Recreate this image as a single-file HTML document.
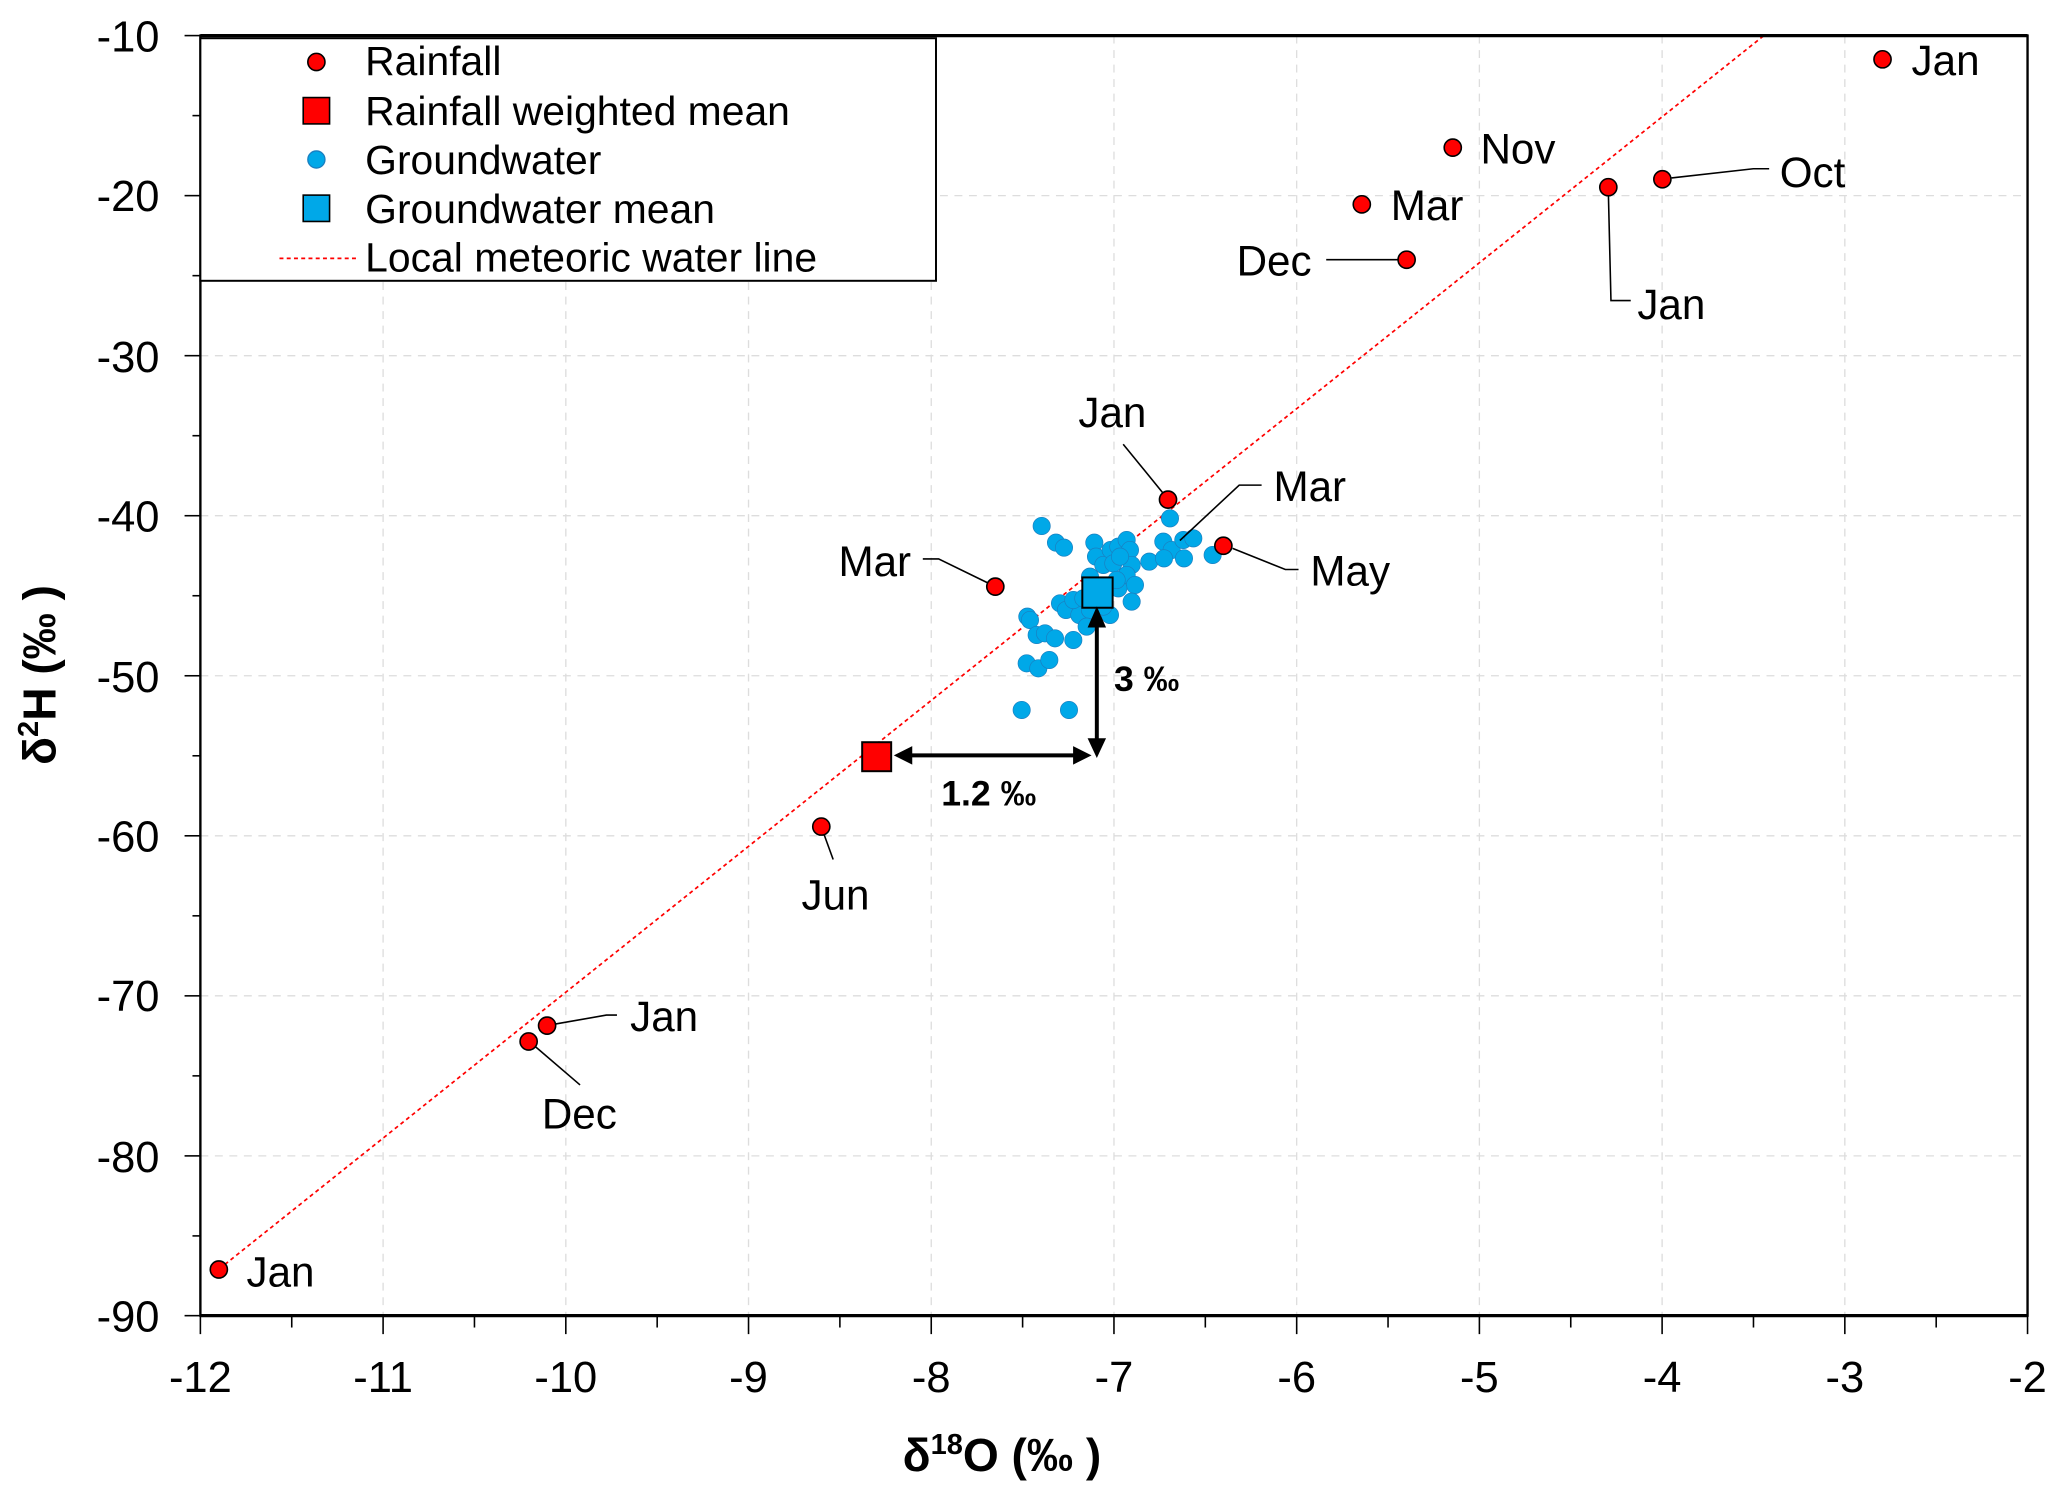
<!DOCTYPE html>
<html><head><meta charset="utf-8"><style>html,body{margin:0;padding:0;background:#fff}svg{display:block}</style></head>
<body>
<svg width="2067" height="1495" viewBox="0 0 2067 1495" xmlns="http://www.w3.org/2000/svg" font-family="Liberation Sans, Arial, sans-serif">
<rect width="2067" height="1495" fill="#fff"/>
<g transform="scale(1.3183)">
<g stroke="#ddd" stroke-width="1" stroke-dasharray="6,5">
<line x1="290.6" y1="27" x2="290.6" y2="998"/><line x1="429.2" y1="27" x2="429.2" y2="998"/><line x1="567.8" y1="27" x2="567.8" y2="998"/><line x1="706.4" y1="27" x2="706.4" y2="998"/><line x1="845" y1="27" x2="845" y2="998"/><line x1="983.6" y1="27" x2="983.6" y2="998"/><line x1="1122.2" y1="27" x2="1122.2" y2="998"/><line x1="1260.8" y1="27" x2="1260.8" y2="998"/><line x1="1399.4" y1="27" x2="1399.4" y2="998"/>
<line x1="152" y1="148.4" x2="1538" y2="148.4"/><line x1="152" y1="269.8" x2="1538" y2="269.8"/><line x1="152" y1="391.2" x2="1538" y2="391.2"/><line x1="152" y1="512.6" x2="1538" y2="512.6"/><line x1="152" y1="634" x2="1538" y2="634"/><line x1="152" y1="755.4" x2="1538" y2="755.4"/><line x1="152" y1="876.8" x2="1538" y2="876.8"/>
</g>
<line x1="162" y1="966" x2="1338" y2="27" stroke="#f00" stroke-width="1.3" stroke-dasharray="3,2.5"/>
</g>
<g transform="translate(990,500) scale(0.3333)" fill="#00a8e8" stroke="#1a7fc0" stroke-width="2">
<circle cx="155" cy="78" r="26"/><circle cx="198" cy="128" r="26"/><circle cx="222" cy="143" r="26"/><circle cx="313" cy="128" r="26"/><circle cx="318" cy="170" r="26"/><circle cx="340" cy="195" r="26"/><circle cx="362" cy="150" r="26"/><circle cx="385" cy="140" r="26"/><circle cx="410" cy="120" r="26"/><circle cx="420" cy="150" r="26"/><circle cx="370" cy="190" r="26"/><circle cx="425" cy="195" r="26"/><circle cx="410" cy="225" r="26"/><circle cx="435" cy="255" r="26"/><circle cx="425" cy="305" r="26"/><circle cx="385" cy="265" r="26"/><circle cx="300" cy="230" r="26"/><circle cx="540" cy="55" r="26"/><circle cx="520" cy="125" r="26"/><circle cx="545" cy="150" r="26"/><circle cx="580" cy="120" r="26"/><circle cx="610" cy="115" r="26"/><circle cx="478" cy="185" r="26"/><circle cx="522" cy="175" r="26"/><circle cx="582" cy="175" r="26"/><circle cx="668" cy="165" r="26"/><circle cx="210" cy="310" r="26"/><circle cx="228" cy="330" r="26"/><circle cx="268" cy="345" r="26"/><circle cx="300" cy="330" r="26"/><circle cx="360" cy="345" r="26"/><circle cx="340" cy="320" r="26"/><circle cx="290" cy="380" r="26"/><circle cx="112" cy="350" r="26"/><circle cx="120" cy="360" r="26"/><circle cx="140" cy="405" r="26"/><circle cx="165" cy="400" r="26"/><circle cx="195" cy="415" r="26"/><circle cx="250" cy="420" r="26"/><circle cx="110" cy="490" r="26"/><circle cx="145" cy="505" r="26"/><circle cx="178" cy="480" r="26"/><circle cx="95" cy="630" r="26"/><circle cx="237" cy="630" r="26"/><circle cx="250" cy="300" r="26"/><circle cx="280" cy="295" r="26"/><circle cx="380" cy="240" r="26"/><circle cx="390" cy="170" r="26"/>
</g>
<g transform="scale(1.3183)">
<g stroke="#000" stroke-width="1.2" fill="none">
<polyline points="1006,197 1063,197"/>
<polyline points="1220,145 1222,228 1237,228"/>
<polyline points="1268,135 1330,128 1342,128"/>
<polyline points="852,337 883,375"/>
<polyline points="957,368 940,368 895,410"/>
<polyline points="935,416 975,432 985,432"/>
<polyline points="700,424 712,424 751,443"/>
<polyline points="624,630 632,652"/>
<polyline points="420,777 460,770 468,770"/>
<polyline points="405,793 440,823"/>
</g>
<g fill="#f00" stroke="#000" stroke-width="1.2">
<circle cx="1428" cy="45" r="6.5"/><circle cx="1102" cy="112" r="6.5"/><circle cx="1033" cy="155" r="6.5"/><circle cx="1067" cy="197" r="6.5"/><circle cx="1220" cy="142" r="6.5"/><circle cx="1261" cy="136" r="6.5"/><circle cx="886" cy="379" r="6.5"/><circle cx="928" cy="414" r="6.5"/><circle cx="755" cy="445" r="6.5"/><circle cx="623" cy="627" r="6.5"/><circle cx="415" cy="778" r="6.5"/><circle cx="401" cy="790" r="6.5"/><circle cx="166" cy="963" r="6.5"/>
</g>
<rect x="654" y="563" width="22" height="22" fill="#f00" stroke="#000" stroke-width="1.5"/>
<rect x="821" y="438" width="23" height="23" fill="#00a8e8" stroke="#000" stroke-width="1.5"/>
<g stroke="#000" stroke-width="3"><line x1="690" y1="573" x2="816" y2="573"/><line x1="832" y1="475" x2="832" y2="562"/></g>
<g fill="#000"><polygon points="678,573 692,566 692,580"/><polygon points="828,573 814,566 814,580"/><polygon points="832,460 825,476 839,476"/><polygon points="832,575 825,560 839,560"/></g>
<g font-weight="bold" font-size="27"><text x="714" y="611">1.2 ‰</text><text x="845" y="524">3 ‰</text></g>
<g font-size="32" fill="#000">
<text x="1450" y="57">Jan</text><text x="1123" y="124">Nov</text><text x="1055" y="167">Mar</text><text x="938" y="209">Dec</text>
<text x="1242" y="242">Jan</text><text x="1350" y="142">Oct</text><text x="818" y="324">Jan</text><text x="966" y="380">Mar</text>
<text x="994" y="444">May</text><text x="636" y="437">Mar</text><text x="608" y="690">Jun</text><text x="478" y="782">Jan</text>
<text x="411" y="856">Dec</text><text x="187" y="976">Jan</text>
</g>
<rect x="152" y="27" width="1386" height="971" fill="none" stroke="#000" stroke-width="1.8"/>
<line x1="152" y1="27" x2="1538" y2="27" stroke="#000" stroke-width="2.5"/>
<line x1="152" y1="998" x2="1538" y2="998" stroke="#000" stroke-width="2.5"/>
<rect x="152" y="29" width="558" height="184" fill="#fff" stroke="#000" stroke-width="1.5"/>
<circle cx="240" cy="47" r="6.5" fill="#f00" stroke="#000" stroke-width="1.2"/>
<rect x="230" y="74" width="20" height="20" fill="#f00" stroke="#000" stroke-width="1.2"/>
<circle cx="240" cy="121" r="6.5" fill="#00a8e8" stroke="#1a7fc0" stroke-width="1"/>
<rect x="230" y="148" width="20" height="20" fill="#00a8e8" stroke="#000" stroke-width="1.2"/>
<line x1="212" y1="196" x2="270" y2="196" stroke="#f00" stroke-width="1.3" stroke-dasharray="3,2.5"/>
<g font-size="31"><text x="277" y="57">Rainfall</text><text x="277" y="95">Rainfall weighted mean</text><text x="277" y="132">Groundwater</text><text x="277" y="169">Groundwater mean</text><text x="277" y="206">Local meteoric water line</text></g>
<g stroke="#000" stroke-width="1.2">
<line x1="140" y1="27" x2="152" y2="27"/><line x1="146" y1="87.7" x2="152" y2="87.7"/><line x1="140" y1="148.4" x2="152" y2="148.4"/><line x1="146" y1="209.1" x2="152" y2="209.1"/><line x1="140" y1="269.8" x2="152" y2="269.8"/><line x1="146" y1="330.5" x2="152" y2="330.5"/><line x1="140" y1="391.2" x2="152" y2="391.2"/><line x1="146" y1="451.9" x2="152" y2="451.9"/><line x1="140" y1="512.6" x2="152" y2="512.6"/><line x1="146" y1="573.3" x2="152" y2="573.3"/><line x1="140" y1="634" x2="152" y2="634"/><line x1="146" y1="694.7" x2="152" y2="694.7"/><line x1="140" y1="755.4" x2="152" y2="755.4"/><line x1="146" y1="816.1" x2="152" y2="816.1"/><line x1="140" y1="876.8" x2="152" y2="876.8"/><line x1="146" y1="937.5" x2="152" y2="937.5"/><line x1="140" y1="998" x2="152" y2="998"/>
</g>
<g font-size="33" text-anchor="end">
<text x="121" y="39">-10</text><text x="121" y="160">-20</text><text x="121" y="282">-30</text><text x="121" y="403">-40</text><text x="121" y="525">-50</text><text x="121" y="646">-60</text><text x="121" y="767">-70</text><text x="121" y="889">-80</text><text x="121" y="1010">-90</text>
</g>
<g stroke="#000" stroke-width="1.2">
<line x1="152" y1="998" x2="152" y2="1012"/><line x1="221.3" y1="998" x2="221.3" y2="1007"/><line x1="290.6" y1="998" x2="290.6" y2="1012"/><line x1="359.9" y1="998" x2="359.9" y2="1007"/><line x1="429.2" y1="998" x2="429.2" y2="1012"/><line x1="498.5" y1="998" x2="498.5" y2="1007"/><line x1="567.8" y1="998" x2="567.8" y2="1012"/><line x1="637.1" y1="998" x2="637.1" y2="1007"/><line x1="706.4" y1="998" x2="706.4" y2="1012"/><line x1="775.7" y1="998" x2="775.7" y2="1007"/><line x1="845" y1="998" x2="845" y2="1012"/><line x1="914.3" y1="998" x2="914.3" y2="1007"/><line x1="983.6" y1="998" x2="983.6" y2="1012"/><line x1="1052.9" y1="998" x2="1052.9" y2="1007"/><line x1="1122.2" y1="998" x2="1122.2" y2="1012"/><line x1="1191.5" y1="998" x2="1191.5" y2="1007"/><line x1="1260.8" y1="998" x2="1260.8" y2="1012"/><line x1="1330.1" y1="998" x2="1330.1" y2="1007"/><line x1="1399.4" y1="998" x2="1399.4" y2="1012"/><line x1="1468.7" y1="998" x2="1468.7" y2="1007"/><line x1="1538" y1="998" x2="1538" y2="1012"/>
</g>
<g font-size="33" text-anchor="middle">
<text x="152" y="1056">-12</text><text x="290.6" y="1056">-11</text><text x="429.2" y="1056">-10</text><text x="567.8" y="1056">-9</text><text x="706.4" y="1056">-8</text><text x="845" y="1056">-7</text><text x="983.6" y="1056">-6</text><text x="1122.2" y="1056">-5</text><text x="1260.8" y="1056">-4</text><text x="1399.4" y="1056">-3</text><text x="1538" y="1056">-2</text>
</g>
<text x="760" y="1116" font-size="35" font-weight="bold" text-anchor="middle">δ<tspan font-size="22" dy="-13">18</tspan><tspan dy="13">O (‰ )</tspan></text>
<text transform="translate(42,512) rotate(-90)" font-size="35" font-weight="bold" text-anchor="middle">δ<tspan font-size="22" dy="-13">2</tspan><tspan dy="13">H (‰ )</tspan></text>
</g>
</svg>
</body></html>
